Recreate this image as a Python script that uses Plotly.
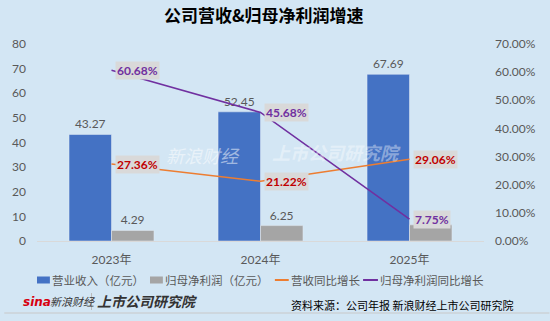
import plotly.graph_objects as go

years = ["2023年", "2024年", "2025年"]
revenue = [43.27, 52.45, 67.69]
net_profit = [4.29, 6.25, 6.55]
rev_growth = [0.2736, 0.2122, 0.2906]
np_growth = [0.6068, 0.4568, 0.0775]
series_names = ["营业收入（亿元）", "归母净利润（亿元）", "营收同比增长", "归母净利润同比增长"]
colors = ["#4472C4", "#A5A5A5", "#ED7D31", "#7030A0"]

BG = "#D3E6F4"
TXT = "#595959"
FONT = "Lato, Noto Sans CJK SC, sans-serif"
CJK = "Noto Sans CJK SC, sans-serif"

L, R, T, B = 33, 484, 44, 241
W, H = R - L, B - T


def px(x):
    return (x - L) / W


def py(y):
    return (B - y) / H


fig = go.Figure()
fig.add_trace(go.Bar(x=years, y=revenue, name=series_names[0], marker_color=colors[0],
                     text=[f"{v:.2f}" for v in revenue], textposition="outside",
                     textfont=dict(color=TXT, size=12, family=FONT), cliponaxis=False))
fig.add_trace(go.Bar(x=years, y=net_profit, name=series_names[1], marker_color=colors[1],
                     text=[f"{v:.2f}" for v in net_profit], textposition="outside",
                     textfont=dict(color=TXT, size=12, family=FONT), cliponaxis=False))
fig.add_trace(go.Scatter(x=years, y=rev_growth, name=series_names[2], mode="lines",
                         line=dict(color=colors[2], width=1.6), yaxis="y2"))
fig.add_trace(go.Scatter(x=years, y=np_growth, name=series_names[3], mode="lines",
                         line=dict(color=colors[3], width=1.6), yaxis="y2"))

annotations = []
for yr, v in zip(years, rev_growth):
    annotations.append(dict(x=yr, y=v, xref="x", yref="y2", text=f"<b>{v*100:.2f}%</b>",
                            showarrow=False, xanchor="left", yanchor="middle", xshift=3,
                            font=dict(color="#C00000", size=12, family=FONT),
                            bgcolor="#D9D9D9", borderpad=1))
for yr, v in zip(years, np_growth):
    annotations.append(dict(x=yr, y=v, xref="x", yref="y2", text=f"<b>{v*100:.2f}%</b>",
                            showarrow=False, xanchor="left", yanchor="middle", xshift=3,
                            font=dict(color="#7030A0", size=12, family=FONT),
                            bgcolor="#D9D9D9", borderpad=1))

# title
annotations.append(dict(x=px(262), y=py(15), xref="paper", yref="paper",
                        text="<b>公司营收&归母净利润增速</b>", showarrow=False,
                        xanchor="center", yanchor="middle",
                        font=dict(color="#000000", size=17, family=CJK)))
# watermarks
annotations.append(dict(x=px(200), y=py(155), xref="paper", yref="paper",
                        text="<i>新浪财经</i>", showarrow=False, xanchor="center", yanchor="middle",
                        font=dict(color="rgba(255,255,255,0.5)", size=18, family=CJK)))
annotations.append(dict(x=px(335), y=py(152), xref="paper", yref="paper",
                        text="<b><i>上市公司研究院</i></b>", showarrow=False, xanchor="center", yanchor="middle",
                        font=dict(color="rgba(255,255,255,0.4)", size=18, family=CJK)))

shapes = []
# manual legend
leg_y = 280
leg_items = [(33, 46, "bar"), (147, 160, "bar"), (273, 287, "line"), (362, 377, "line")]
for (x0, x1, kind), name, col in zip(leg_items, series_names, colors):
    if kind == "bar":
        shapes.append(dict(type="rect", xref="paper", yref="paper", x0=px(x0), x1=px(x1),
                           y0=py(leg_y + 3.5), y1=py(leg_y - 3.5), fillcolor=col, line=dict(width=0)))
    else:
        shapes.append(dict(type="line", xref="paper", yref="paper", x0=px(x0), x1=px(x1),
                           y0=py(leg_y), y1=py(leg_y), line=dict(color=col, width=2)))
    annotations.append(dict(x=px(x1), y=py(leg_y), xref="paper", yref="paper", text=name,
                            showarrow=False, xanchor="left", yanchor="middle",
                            font=dict(color=TXT, size=11.5, family=CJK)))

# footer
annotations.append(dict(x=px(17), y=py(302), xref="paper", yref="paper",
                        text="<b><i>sina</i></b>", showarrow=False, xanchor="left", yanchor="middle",
                        font=dict(color="#D7000F", size=12, family="DejaVu Sans")))
annotations.append(dict(x=px(44), y=py(301), xref="paper", yref="paper",
                        text="<i>新浪财经</i>", showarrow=False, xanchor="left", yanchor="middle",
                        font=dict(color="#333333", size=11, family=CJK)))
annotations.append(dict(x=px(92), y=py(301), xref="paper", yref="paper",
                        text="<b><i>上市公司研究院</i></b>", showarrow=False, xanchor="left", yanchor="middle",
                        font=dict(color="#333333", size=14, family=CJK)))
annotations.append(dict(x=px(515), y=py(305), xref="paper", yref="paper",
                        text="资料来源：公司年报 新浪财经上市公司研究院", showarrow=False,
                        xanchor="right", yanchor="middle",
                        font=dict(color="#000000", size=11, family=CJK)))

shapes += [
    dict(type="line", xref="paper", yref="paper", x0=px(0), x1=px(550),
         y0=py(313), y1=py(313), line=dict(color="#C8C8C8", width=1)),
    dict(type="line", xref="paper", yref="paper", x0=px(88), x1=px(88),
         y0=py(293), y1=py(310), line=dict(color="#BBBBBB", width=1)),
]

fig.update_layout(
    width=550, height=321,
    margin=dict(l=L, r=550 - R, t=T, b=321 - B),
    paper_bgcolor=BG, plot_bgcolor=BG,
    barmode="group", bargap=0.43, bargroupgap=0,
    font=dict(family=CJK, color=TXT, size=12),
    showlegend=False,
    xaxis=dict(showgrid=False, showline=True, linecolor="#D9D9D9", linewidth=1,
               ticks="", ticklabelstandoff=8, tickfont=dict(size=12, color=TXT, family=FONT)),
    yaxis=dict(range=[0, 80], dtick=10, showgrid=False, zeroline=False, ticks="",
               ticklabelstandoff=10, tickfont=dict(size=12, color=TXT, family=FONT)),
    yaxis2=dict(range=[0, 0.7], dtick=0.1, tickformat=".2%", overlaying="y", side="right",
                showgrid=False, zeroline=False, ticks="", ticklabelstandoff=10,
                tickfont=dict(size=12, color=TXT, family=FONT)),
    annotations=annotations,
    shapes=shapes,
)

fig.write_html("out.html")
